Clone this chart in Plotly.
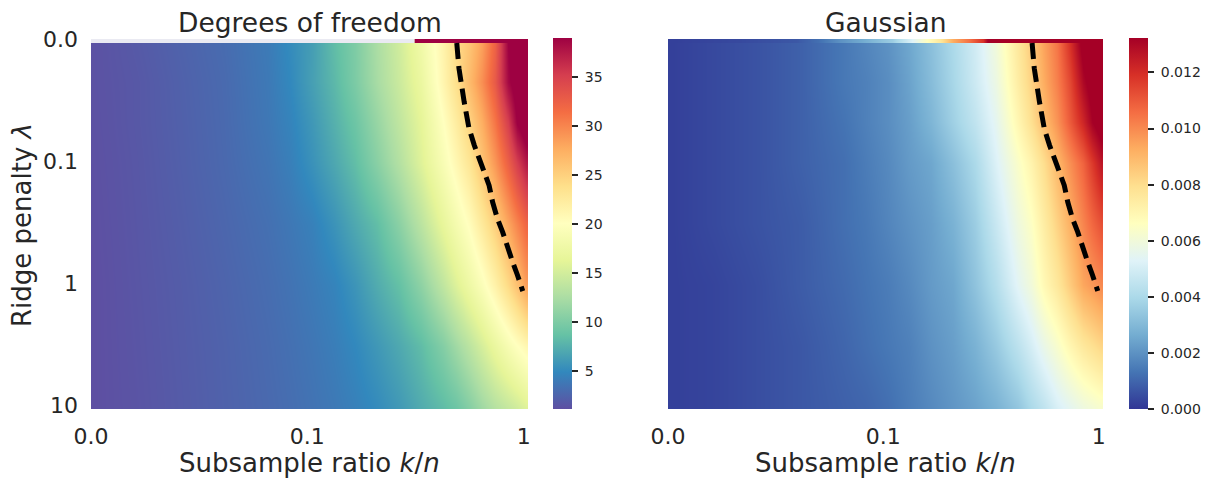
import plotly.graph_objects as go

# ---------------- data ----------------
# column index along subsample ratio k/n (0 -> 0.01 ... 99 -> 1), row index along lambda (0 -> 0, 30 -> 0.1, 60 -> 1, 90 -> 10)
COLS = [0, 10, 20, 30, 40, 45, 50, 55, 60, 65, 70, 75, 80, 83, 86, 89, 92, 95, 97, 99]
ROWS = [1, 10, 20, 30, 45, 60, 75, 90]

DF_VALUES = [
    [1.3, 1.8, 2.4, 3.0, 4.0, 5.1, 6.3, 8.3, 10.0, 12.5, 14.8, 17.8, 21.5, 24.1, 25.9, 28.5, 32.3, 39.0, 41.0, 42.0],
    [1.3, 1.7, 2.3, 2.9, 3.9, 4.9, 6.4, 8.0, 9.9, 12.3, 14.5, 17.1, 21.2, 23.8, 26.6, 29.5, 33.0, 38.5, 40.5, 42.0],
    [1.25, 1.7, 2.25, 2.85, 3.8, 4.6, 5.9, 7.5, 9.1, 11.4, 13.8, 16.3, 20.0, 22.3, 24.8, 27.6, 31.0, 35.2, 39.2, 41.0],
    [1.2, 1.65, 2.2, 2.8, 3.6, 4.3, 5.5, 6.9, 8.4, 10.6, 13.0, 15.8, 19.0, 21.0, 23.1, 26.0, 29.0, 32.5, 35.2, 37.5],
    [1.15, 1.6, 2.1, 2.65, 3.3, 3.8, 4.4, 5.6, 7.0, 8.4, 10.7, 13.5, 16.6, 18.5, 20.3, 22.7, 25.2, 28.1, 30.1, 32.0],
    [1.1, 1.55, 2.0, 2.5, 3.1, 3.5, 4.0, 4.6, 5.7, 7.2, 8.6, 10.9, 13.8, 15.7, 17.5, 19.4, 21.7, 24.3, 26.3, 28.5],
    [1.1, 1.5, 1.95, 2.4, 2.95, 3.3, 3.7, 4.2, 4.9, 5.9, 7.0, 8.3, 10.3, 11.9, 13.5, 15.2, 17.0, 18.8, 20.0, 21.0],
    [1.1, 1.45, 1.9, 2.35, 2.85, 3.15, 3.5, 3.9, 4.4, 5.1, 6.0, 7.2, 8.3, 9.1, 10.4, 11.9, 13.2, 14.2, 14.9, 15.8],
]

GAUSS_VALUES = [
    [.0002, .0004, .0006, .0009, .0014, .0017, .0020, .0025, .0032, .0040, .0049, .0060, .0076, .0085, .0095, .0104, .0119, .0136, .0140, .0145],
    [.0002, .0004, .0006, .0009, .0014, .0016, .0019, .0024, .0031, .0039, .0048, .0058, .0074, .0083, .0093, .0102, .0114, .0130, .0137, .0142],
    [.0002, .0004, .0006, .0009, .0013, .0016, .0019, .0023, .0029, .0037, .0045, .0055, .0070, .0079, .0089, .0098, .0110, .0122, .0132, .0138],
    [.0002, .0004, .0006, .0009, .0012, .0015, .0018, .0022, .0025, .0032, .0040, .0052, .0064, .0071, .0080, .0090, .0099, .0108, .0117, .0126],
    [.0002, .0004, .0006, .0008, .0012, .0014, .0017, .0020, .0023, .0028, .0036, .0047, .0059, .0065, .0074, .0083, .0092, .0101, .0107, .0112],
    [.0002, .0003, .0005, .0008, .0011, .0013, .0015, .0018, .0022, .0025, .0033, .0042, .0054, .0060, .0069, .0076, .0085, .0094, .0097, .0100],
    [.0002, .0003, .0005, .0007, .0010, .0012, .0014, .0016, .0020, .0023, .0028, .0035, .0044, .0050, .0057, .0063, .0070, .0076, .0079, .0082],
    [.0002, .0003, .0005, .0007, .0009, .0010, .0012, .0015, .0018, .0021, .0024, .0028, .0034, .0040, .0045, .0051, .0055, .0059, .0061, .0063],
]

# lambda = 0 row (None = missing value)
TOP_COLS_DF = [0, 73, 74, 99]
TOP_DF = [None, None, 45.0, 45.0]
TOP_COLS_GAUSS = [0, 16, 29, 34, 39, 44, 51, 55, 59, 62, 65, 69, 72, 73.5, 99]
TOP_GAUSS = [.0002, .0004, .0007, .0012, .0020, .0026, .0036, .0050, .0066, .0076, .0093, .0106, .0119, .0140, .0145]

# dashed path (column, row)
LINE_COLS = [83.2, 83.7, 84.9, 86.0, 87.2, 88.3, 89.5, 90.6, 91.4, 92.5, 93.7, 94.8, 96.0, 97.1, 98.3]
LINE_ROWS = [0.5, 6.7, 15.0, 21.5, 25.6, 28.9, 32.2, 35.5, 39.6, 43.7, 47.0, 51.0, 54.4, 57.6, 61.5]

X_TICKVALS = [-0.5, 49, 98.5]
X_TICKTEXT = ["0.0", "0.1", "1"]
Y_TICKVALS = [-0.5, 29.5, 59.5, 89.5]
Y_TICKTEXT = ["0.0", "0.1", "1", "10"]

DF_RANGE = [1.1, 39.0]
GAUSS_RANGE = [0.0, 0.01323]
DF_CB_TICKS = [5, 10, 15, 20, 25, 30, 35]
GAUSS_CB_TICKS = [0.0, 0.002, 0.004, 0.006, 0.008, 0.010, 0.012]

SPECTRAL_R = ['#5e4fa2', '#3288bd', '#66c2a5', '#abdda4', '#e6f598', '#ffffbf',
              '#fee08b', '#fdae61', '#f46d43', '#d53e4f', '#9e0142']
RDYLBU_R = ['#313695', '#4575b4', '#74add1', '#abd9e9', '#e0f3f8', '#ffffbf',
            '#fee090', '#fdae61', '#f46d43', '#d73027', '#a50026']
NAN_COLOR = '#EAEAF2'


def scale(colors):
    n = len(colors) - 1
    return [[i / n, c] for i, c in enumerate(colors)]


# the page body has an 8px margin: the figure fills the rest of the 1209x478 window
OFF = 8
W, H = 1209 - OFF, 478 - OFF


def fx(px):
    return (px - OFF) / W


def fy(py):
    return 1 - (py - OFF) / H


TXT = '#262626'
FONT = 'DejaVu Sans'
NBSP = '\u00a0'

fig = go.Figure()

cb_common = dict(
    xanchor='left', y=fy(223.5), yanchor='middle', len=371, lenmode='pixels',
    thickness=19, thicknessmode='pixels', outlinewidth=0, ticks='outside', ticklen=6,
    tickwidth=1.5, tickcolor=TXT, tickfont=dict(size=14, color=TXT, family=FONT),
    xpad=0, ypad=0,
)

fig.add_trace(go.Heatmap(
    x=COLS, y=ROWS, z=DF_VALUES, zmin=DF_RANGE[0], zmax=DF_RANGE[1],
    colorscale=scale(SPECTRAL_R), zsmooth='best', xaxis='x', yaxis='y',
    colorbar=dict(x=fx(553), tickvals=DF_CB_TICKS,
                  ticktext=[NBSP + str(v) for v in DF_CB_TICKS], **cb_common),
))
# missing cells of the lambda = 0 row are shown in the axes background colour
fig.add_trace(go.Heatmap(
    x=TOP_COLS_DF, y=[0], z=[[1 if v is None else None for v in TOP_DF]],
    colorscale=[[0, NAN_COLOR], [1, NAN_COLOR]], showscale=False, xaxis='x', yaxis='y',
))
fig.add_trace(go.Heatmap(
    x=TOP_COLS_DF, y=[0], z=[TOP_DF], zmin=DF_RANGE[0], zmax=DF_RANGE[1],
    colorscale=scale(SPECTRAL_R), showscale=False, xaxis='x', yaxis='y',
))
fig.add_trace(go.Heatmap(
    x=COLS, y=ROWS, z=GAUSS_VALUES, zmin=GAUSS_RANGE[0], zmax=GAUSS_RANGE[1],
    colorscale=scale(RDYLBU_R), zsmooth='best', xaxis='x2', yaxis='y2',
    colorbar=dict(x=fx(1129), tickvals=GAUSS_CB_TICKS,
                  ticktext=[NBSP + f"{v:.3f}" for v in GAUSS_CB_TICKS], **cb_common),
))
fig.add_trace(go.Heatmap(
    x=TOP_COLS_GAUSS, y=[-0.25, 0.25], z=[TOP_GAUSS, TOP_GAUSS],
    zmin=GAUSS_RANGE[0], zmax=GAUSS_RANGE[1], zsmooth='best',
    colorscale=scale(RDYLBU_R), showscale=False, xaxis='x2', yaxis='y2',
))

for xa, ya in (('x', 'y'), ('x2', 'y2')):
    fig.add_trace(go.Scatter(
        x=LINE_COLS, y=LINE_ROWS, mode='lines', xaxis=xa, yaxis=ya,
        line=dict(color='black', width=5, dash='16px,7px'), showlegend=False,
        hoverinfo='skip',
    ))

ydom = [fy(409), fy(39)]
ax_common = dict(showgrid=False, zeroline=False, showline=False, ticks='', automargin=False,
                 tickfont=dict(size=22, color=TXT, family=FONT))

fig.update_layout(
    width=W, height=H, margin=dict(l=0, r=0, t=0, b=0, autoexpand=False),
    paper_bgcolor='white', plot_bgcolor=NAN_COLOR, showlegend=False,
    font=dict(family=FONT, color=TXT),
    xaxis=dict(domain=[fx(91), fx(528)], range=[-0.5, 99.5], tickvals=X_TICKVALS,
               ticktext=X_TICKTEXT, anchor='y', ticklabelstandoff=12, **ax_common),
    yaxis=dict(domain=ydom, range=[90.5, -0.5], tickvals=Y_TICKVALS,
               ticktext=Y_TICKTEXT, anchor='x', ticklabelstandoff=12, **ax_common),
    xaxis2=dict(domain=[fx(668), fx(1103)], range=[-0.5, 99.5], tickvals=X_TICKVALS,
                ticktext=X_TICKTEXT, anchor='y2', ticklabelstandoff=12, **ax_common),
    yaxis2=dict(domain=ydom, range=[90.5, -0.5], showticklabels=False, anchor='x2',
                **ax_common),
)

ann_font = dict(size=26.5, color=TXT, family=FONT)
xt_font = dict(size=26, color=TXT, family=FONT)
fig.add_annotation(text='Degrees of freedom', x=fx(309.5), y=fy(22), xref='paper', yref='paper',
                   showarrow=False, font=ann_font, xanchor='center', yanchor='middle')
fig.add_annotation(text='Gaussian', x=fx(885.5), y=fy(22), xref='paper', yref='paper',
                   showarrow=False, font=ann_font, xanchor='center', yanchor='middle')
for cx in (309.5, 885.5):
    fig.add_annotation(text='Subsample ratio <i>k</i>/<i>n</i>', x=fx(cx), y=fy(463),
                       xref='paper', yref='paper', showarrow=False, font=xt_font,
                       xanchor='center', yanchor='middle')
fig.add_annotation(text='Ridge penalty <i>λ</i>', x=fx(22), y=fy(225), xref='paper', yref='paper',
                   showarrow=False, font=xt_font, textangle=-90, xanchor='center', yanchor='middle')

fig.write_html('out.html')
